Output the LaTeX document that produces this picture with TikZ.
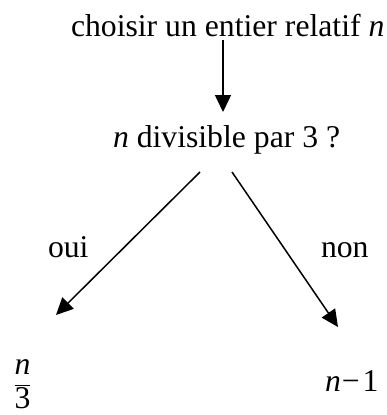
\documentclass[tikz,border=0pt]{standalone}
\usepackage{fontspec}
\setmainfont{Liberation Serif}
\usetikzlibrary{arrows.meta}
\begin{document}
\begin{tikzpicture}[x=1pt,y=-1pt,
  lbl/.style={inner sep=0pt,outer sep=0pt,font=\fontsize{31.7}{38}\selectfont},
  arr/.style={line width=1.5pt,-{Triangle[length=17pt,width=16pt]}}]
\useasboundingbox (0,0) rectangle (387,415);
\node[lbl,anchor=base west] (top) at (71,36) {choisir un entier relatif \textit{n}};
\node[lbl,anchor=base west] (mid) at (113,147) {\textit{n} divisible par 3 ?};
\node[lbl,anchor=base west] (oui) at (48,257) {oui};
\node[lbl,anchor=base west] (non) at (321,257) {non};
\node[lbl,anchor=base] (frac) at (22.5,391) {$\displaystyle\frac{\mbox{\textit{n}}}{\mbox{3}}$};
\node[lbl,anchor=base west] (nm1) at (325,391) {\textit{n}\kern1pt −\kern3pt 1};
\coordinate (a1s) at (223,40);
\coordinate (a1e) at (223,112);
\coordinate (a2s) at (200,172);
\coordinate (a2e) at (56,315);
\coordinate (a3s) at (232,172);
\coordinate (a3e) at (338,327);
\draw[arr] (a1s) -- (a1e);
\draw[arr] (a2s) -- (a2e);
\draw[arr] (a3s) -- (a3e);
\end{tikzpicture}
\end{document}
